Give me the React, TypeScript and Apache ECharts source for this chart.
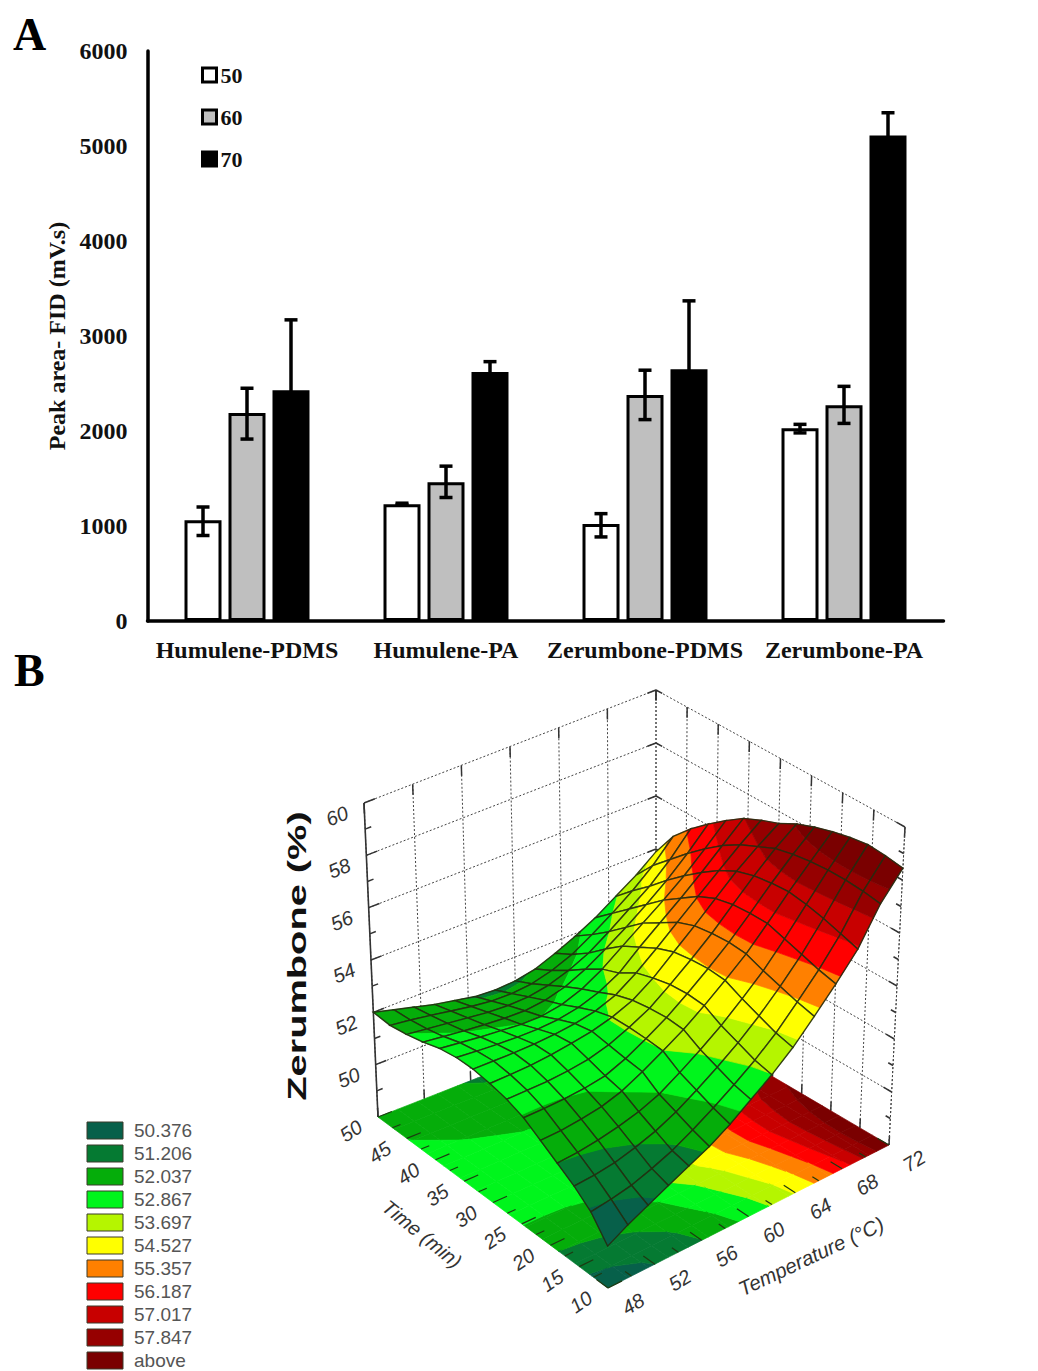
import React, { useEffect, useRef } from "react";
import * as echarts from "echarts";

const W = 1038, H = 1371;

// ---------- Panel A data ----------
const categories = ["Humulene-PDMS", "Humulene-PA", "Zerumbone-PDMS", "Zerumbone-PA"];
const area50 = [1060, 1230, 1020, 2030];
const area60 = [2190, 1460, 2380, 2270];
const area70 = [2430, 2620, 2650, 5110];
const err50 = [[900, 1200], [1225, 1240], [885, 1130], [1980, 2070]];
const err60 = [[1915, 2450], [1300, 1630], [2120, 2640], [2080, 2470]];
const err70 = [[1690, 3170], [2510, 2730], [1930, 3370], [4870, 5350]];

// ---------- Panel B data (rows: time 10 -> 50, columns: temperature 48 -> 72) ----------
const zTime10 = [49.5, 49.9, 50.25, 50.6, 50.95, 51.3, 51.75, 52.3, 52.85, 53.5, 54.3, 55.15, 56.1, 57.45, 58.45];
const zTime13 = [50.3, 50.4, 50.55, 50.8, 51.1, 51.5, 51.95, 52.45, 53.0, 53.65, 54.45, 55.3, 56.3, 57.55, 58.55];
const zTime16 = [50.8, 50.85, 50.95, 51.15, 51.4, 51.75, 52.2, 52.7, 53.25, 53.9, 54.65, 55.5, 56.5, 57.6, 58.6];
const zTime19 = [51.2, 51.25, 51.35, 51.5, 51.7, 52.0, 52.45, 52.95, 53.5, 54.15, 54.85, 55.7, 56.65, 57.6, 58.5];
const zTime21 = [51.6, 51.62, 51.7, 51.82, 52.05, 52.42, 52.85, 53.3, 53.85, 54.45, 55.1, 55.9, 56.75, 57.55, 58.35];
const zTime24 = [52.0, 52.0, 52.02, 52.08, 52.2, 52.5, 52.9, 53.35, 53.9, 54.5, 55.15, 55.9, 56.7, 57.45, 58.15];
const zTime27 = [52.25, 52.25, 52.25, 52.3, 52.4, 52.6, 52.92, 53.3, 53.85, 54.45, 55.1, 55.85, 56.6, 57.3, 57.9];
const zTime30 = [52.4, 52.4, 52.42, 52.48, 52.58, 52.7, 52.9, 53.2, 53.7, 54.35, 55.0, 55.7, 56.4, 57.0, 57.55];
const zTime33 = [52.5, 52.48, 52.46, 52.46, 52.5, 52.58, 52.72, 53.0, 53.5, 54.1, 54.75, 55.4, 56.05, 56.7, 57.3];
const zTime36 = [52.5, 52.42, 52.35, 52.3, 52.28, 52.32, 52.45, 52.7, 53.1, 53.75, 54.35, 54.95, 55.6, 56.3, 57.0];
const zTime39 = [52.4, 52.3, 52.2, 52.12, 52.04, 52.03, 52.15, 52.42, 52.85, 53.4, 53.95, 54.5, 55.1, 55.8, 56.55];
const zTime41 = [52.2, 52.1, 52.0, 51.92, 51.85, 51.82, 51.9, 52.1, 52.45, 52.9, 53.4, 53.95, 54.55, 55.25, 56.05];
const zTime44 = [52.05, 51.95, 51.85, 51.75, 51.65, 51.6, 51.62, 51.75, 52.0, 52.35, 52.85, 53.4, 53.95, 54.65, 55.5];
const zTime47 = [51.95, 51.85, 51.72, 51.58, 51.45, 51.35, 51.33, 51.4, 51.6, 51.9, 52.35, 52.85, 53.4, 54.05, 54.85];
const zTime50 = [52.0, 51.8, 51.6, 51.4, 51.25, 51.1, 51.05, 51.1, 51.25, 51.55, 51.9, 52.3, 52.8, 53.3, 53.9];
const surface = [zTime10, zTime13, zTime16, zTime19, zTime21, zTime24, zTime27, zTime30, zTime33, zTime36, zTime39, zTime41, zTime44, zTime47, zTime50];

const levelLabels = ["50.376", "51.206", "52.037", "52.867", "53.697", "54.527", "55.357", "56.187", "57.017", "57.847", "above"];
const levelColors = ["#07604a", "#057a32", "#05ad0a", "#00f51c", "#b5f500", "#ffff00", "#ff8000", "#ff0000", "#c80000", "#960000", "#7a0000"];
const temperatureTicks = [48, 52, 56, 60, 64, 68, 72];
const timeTicks = [10, 15, 20, 25, 30, 35, 40, 45, 50];
const zTicks = [50, 52, 54, 56, 58, 60];

// ---------- Panel B projection (box corners on the page) ----------
const floorN = [608, 1288], floorR = [889, 1145], floorL = [378, 1117], floorB = [656, 1008];
const topN = [605, 953], topR = [905, 827], topL = [364, 803], topB = [656, 690];
const T0 = 48, T1 = 72, t0 = 10, t1 = 50, Z0 = 48, Z1 = 60;

function mix(p: number[], q: number[], k: number) {
  return [p[0] + (q[0] - p[0]) * k, p[1] + (q[1] - p[1]) * k];
}
function project(T: number, t: number, z: number) {
  const a = (T - T0) / (T1 - T0), b = (t - t0) / (t1 - t0), c = (z - Z0) / (Z1 - Z0);
  const low = mix(mix(floorN, floorR, a), mix(floorL, floorB, a), b);
  const high = mix(mix(topN, topR, a), mix(topL, topB, a), b);
  return mix(low, high, c);
}
const nT = zTime10.length, nt = surface.length;
const rowT = (i: number) => T0 + ((T1 - T0) * i) / (nT - 1);
const rowt = (j: number) => t0 + ((t1 - t0) * j) / (nt - 1);

type V = [number, number, number];
function clipAbove(poly: V[], lv: number, keepAbove: boolean): V[] {
  const out: V[] = [];
  const inside = (v: V) => (keepAbove ? v[2] >= lv : v[2] <= lv);
  for (let k = 0; k < poly.length; k++) {
    const p = poly[k], q = poly[(k + 1) % poly.length];
    const pi = inside(p), qi = inside(q);
    if (pi) out.push(p);
    if (pi !== qi) {
      const f = (lv - p[2]) / (q[2] - p[2]);
      out.push([p[0] + (q[0] - p[0]) * f, p[1] + (q[1] - p[1]) * f, lv]);
    }
  }
  return out;
}
function bandPolygons(i: number, j: number, onFloor: boolean) {
  const quad: V[] = [
    [rowT(i), rowt(j), surface[j][i]],
    [rowT(i + 1), rowt(j), surface[j][i + 1]],
    [rowT(i + 1), rowt(j + 1), surface[j + 1][i + 1]],
    [rowT(i), rowt(j + 1), surface[j + 1][i]],
  ];
  const bounds = levelLabels.slice(0, -1).map(Number);
  const children: any[] = [];
  for (let b = 0; b < levelColors.length; b++) {
    let poly = quad;
    if (b > 0) poly = clipAbove(poly, bounds[b - 1], true);
    if (poly.length && b < bounds.length) poly = clipAbove(poly, bounds[b], false);
    if (poly.length < 3) continue;
    children.push({
      type: "polygon",
      shape: { points: poly.map((v) => project(v[0], v[1], onFloor ? Z0 : v[2])) },
      style: { fill: levelColors[b], stroke: levelColors[b], lineWidth: 0.7 },
      silent: true,
    });
  }
  if (!onFloor) {
    children.push({
      type: "polygon",
      shape: { points: quad.map((v) => project(v[0], v[1], v[2])) },
      style: { fill: "none", stroke: "#232c10", lineWidth: 1.4, opacity: 0.9 },
      silent: true,
    });
  }
  return children;
}
const cells: number[][] = [];
for (let j = nt - 2; j >= 0; j--) for (let i = nT - 2; i >= 0; i--) cells.push([i, j]);
cells.sort((p, q) => q[0] + q[1] - (p[0] + p[1]));

function seg(p: number[], q: number[], style: any) {
  return { type: "line", shape: { x1: p[0], y1: p[1], x2: q[0], y2: q[1] }, style, silent: true };
}
const dotted = { stroke: "#444", lineWidth: 1, lineDash: [2, 2], fill: "none" };
const solid = { stroke: "#333", lineWidth: 1.5, fill: "none" };

function wallChildren() {
  const c: any[] = [];
  for (const T of temperatureTicks) {
    c.push(seg(project(T, t1, Z0), project(T, t1, Z1), dotted));
    c.push(seg(project(T, t1, Z1), project(T, t1, Z1 - 0.4), solid));
    c.push(seg(project(T, t1, Z0), project(T, t1, Z0 + 0.35), solid));
  }
  for (const t of timeTicks) {
    c.push(seg(project(T1, t, Z0), project(T1, t, Z1), dotted));
    c.push(seg(project(T1, t, Z1), project(T1, t, Z1 - 0.4), solid));
    c.push(seg(project(T1, t, Z0), project(T1, t, Z0 + 0.35), solid));
  }
  for (const z of zTicks) {
    c.push(seg(project(T0, t1, z), project(T1, t1, z), dotted));
    c.push(seg(project(T1, t1, z), project(T1, t0, z), dotted));
    c.push(seg(project(T0, t1, z), project(T0 + 0.9, t1, z), solid));
    c.push(seg(project(T1, t0, z), project(T1, t0 + 1.4, z), solid));
    c.push(seg(project(T1, t1, z), project(T1, t1 - 1, z), solid));
    c.push(seg(project(T1, t1, z), project(T1 - 0.7, t1, z), solid));
  }
  for (const z of [49, 51, 53, 55, 57, 59]) {
    c.push(seg(project(T0, t1, z), project(T0 + 0.5, t1, z), solid));
    c.push(seg(project(T1, t0, z), project(T1, t0 + 0.8, z), solid));
  }
  c.push(seg(project(T0, t1, Z0), project(T0, t1, Z1), { ...solid, lineWidth: 1.6 }));
  c.push(seg(project(T1, t0, Z0), project(T1, t0, Z1), dotted));
  return c;
}
function floorTicks() {
  const c: any[] = [];
  const st = { stroke: "#1d3a12", lineWidth: 1.2, fill: "none" };
  for (let t = t0; t <= t1; t += 2.5) {
    const major = t % 5 === 0;
    c.push(seg(project(T0, t, Z0), project(T0 + (major ? 1.2 : 0.7), t, Z0), st));
  }
  for (let T = T0; T <= T1; T += 2) {
    const major = T % 4 === 0;
    c.push(seg(project(T, t0, Z0), project(T, t0 + (major ? 2 : 1.1), Z0), st));
  }
  return c;
}

function labelText(text: string, p: number[], rotation: number, extra: any = {}) {
  return {
    type: "text",
    x: p[0],
    y: p[1],
    rotation,
    silent: true,
    style: {
      text,
      fill: "#333",
      align: "center",
      verticalAlign: "middle",
      font: "italic 20px 'Liberation Sans'",
      ...extra,
    },
  };
}

function graphicElements() {
  const g: any[] = [];
  const serif = "bold 46px 'Liberation Serif'";
  g.push({ type: "text", x: 13, y: 34, style: { text: "A", font: serif, fill: "#000", verticalAlign: "middle" } });
  g.push({ type: "text", x: 14, y: 670, style: { text: "B", font: serif, fill: "#000", verticalAlign: "middle" } });
  for (const T of temperatureTicks) {
    const p = project(T, t0, Z0);
    g.push(labelText(String(T), [p[0] + 25, p[1] + 16], 0.55));
  }
  for (const t of timeTicks) {
    const p = project(T0, t, Z0);
    g.push(labelText(String(t), [p[0] - 27, p[1] + 14], 0.6));
  }
  for (const z of zTicks) {
    const p = project(T0, t1, z);
    g.push(labelText(String(z), [p[0] - 27, p[1] + 13], 0.4));
  }
  g.push(labelText("Time (min)", [422, 1234], -0.68, { font: "italic 20px 'Liberation Sans'" }));
  g.push(labelText("Temperature (°C)", [811, 1256], 0.44, { font: "italic 20.5px 'Liberation Sans'" }));
  g.push({
    type: "text",
    x: 297,
    y: 956,
    rotation: Math.PI / 2,
    scaleX: 1.53,
    silent: true,
    style: {
      text: "Zerumbone (%)",
      font: "bold 26px 'Liberation Sans'",
      fill: "#111",
      align: "center",
      verticalAlign: "middle",
    },
  });
  levelLabels.forEach((label, k) => {
    const y = 1131 + k * 23;
    g.push({
      type: "rect",
      shape: { x: 87, y: y - 9, width: 36, height: 17 },
      style: { fill: levelColors[k], stroke: "#3a3a2a", lineWidth: 1 },
      silent: true,
    });
    g.push({
      type: "text",
      x: 134,
      y: y - 1,
      silent: true,
      style: { text: label, font: "19px 'Liberation Sans'", fill: "#555", verticalAlign: "middle" },
    });
  });
  return g;
}

const BAR_STEP = 44;
function errorSeries(name: string, data: number[][], offsetIndex: number) {
  return {
    type: "custom",
    name,
    coordinateSystem: "cartesian2d",
    xAxisIndex: 0,
    yAxisIndex: 0,
    z: 5,
    silent: true,
    data: data.map((d, k) => [k, d[0], d[1]]),
    encode: { x: 0, y: [1, 2] },
    renderItem: (_: any, api: any) => {
      const lo = api.coord([api.value(0), api.value(1)]);
      const hi = api.coord([api.value(0), api.value(2)]);
      const x = lo[0] + offsetIndex * BAR_STEP;
      const st = { stroke: "#000", lineWidth: 3.5, fill: "none" };
      const cap = 6.5;
      return {
        type: "group",
        children: [
          seg([x, lo[1]], [x, hi[1]], st),
          seg([x - cap, lo[1]], [x + cap, lo[1]], st),
          seg([x - cap, hi[1]], [x + cap, hi[1]], st),
        ],
      };
    },
  };
}
function barSeries(name: string, data: number[], fill: string) {
  return {
    type: "bar",
    name,
    data,
    barWidth: 37,
    barGap: "18.9%",
    itemStyle: { color: fill, borderColor: "#000", borderWidth: 3 },
    z: 3,
    silent: true,
  };
}

export default function App() {
  const ref = useRef<HTMLDivElement>(null);
  useEffect(() => {
    const chart = echarts.init(ref.current!, undefined, { renderer: "svg" });
    const serifBold = "Liberation Serif";
    chart.setOption({
      animation: false,
      backgroundColor: "#fff",
      grid: { left: 147.5, top: 51, width: 796, height: 570, containLabel: false },
      xAxis: {
        type: "category",
        data: categories,
        axisLine: { lineStyle: { color: "#000", width: 3.5 } },
        axisTick: { show: false },
        axisLabel: { fontFamily: serifBold, fontWeight: "bold", fontSize: 24, color: "#111", margin: 17, interval: 0 },
      },
      yAxis: {
        type: "value",
        min: 0,
        max: 6000,
        interval: 1000,
        name: "Peak area- FID (mV.s)",
        nameLocation: "middle",
        nameRotate: 90,
        nameGap: 77,
        nameTextStyle: { fontFamily: serifBold, fontWeight: "bold", fontSize: 24, color: "#111" },
        splitLine: { show: false },
        axisTick: { show: false },
        axisLine: { show: true, lineStyle: { color: "#000", width: 3.5 } },
        axisLabel: {
          fontFamily: serifBold,
          fontWeight: "bold",
          fontSize: 24,
          color: "#111",
          margin: 20,
          formatter: (v: number) => String(v),
        },
      },
      legend: {
        data: ["50", "60", "70"],
        orient: "vertical",
        left: 201,
        top: 64,
        itemWidth: 14,
        itemHeight: 14,
        itemGap: 20,
        icon: "rect",
        selectedMode: false,
        padding: 0,
        itemStyle: { borderWidth: 3, borderColor: "#000" },
        textStyle: { fontFamily: serifBold, fontWeight: "bold", fontSize: 22, color: "#111", padding: [0, 0, 0, -1] },
      },
      graphic: graphicElements(),
      series: [
        barSeries("50", area50, "#fff"),
        barSeries("60", area60, "#bfbfbf"),
        barSeries("70", area70, "#000"),
        errorSeries("err50", err50, -1),
        errorSeries("err60", err60, 0),
        errorSeries("err70", err70, 1),
        {
          type: "custom",
          name: "walls",
          coordinateSystem: "none",
          z: 1,
          silent: true,
          data: [[0]],
          renderItem: () => ({ type: "group", children: wallChildren() }),
        },
        {
          type: "custom",
          name: "floor",
          coordinateSystem: "none",
          z: 2,
          silent: true,
          progressive: 0,
          data: cells,
          renderItem: (_: any, api: any) => ({
            type: "group",
            children: bandPolygons(api.value(0), api.value(1), true),
          }),
        },
        {
          type: "custom",
          name: "floorTicks",
          coordinateSystem: "none",
          z: 3,
          silent: true,
          data: [[0]],
          renderItem: () => ({ type: "group", children: floorTicks() }),
        },
        {
          type: "custom",
          name: "surface",
          coordinateSystem: "none",
          z: 4,
          silent: true,
          progressive: 0,
          data: cells,
          renderItem: (_: any, api: any) => ({
            type: "group",
            children: bandPolygons(api.value(0), api.value(1), false),
          }),
        },
      ],
    });
    return () => chart.dispose();
  }, []);
  return <div ref={ref} style={{ position: "absolute", left: 0, top: 0, width: W, height: H }} />;
}
